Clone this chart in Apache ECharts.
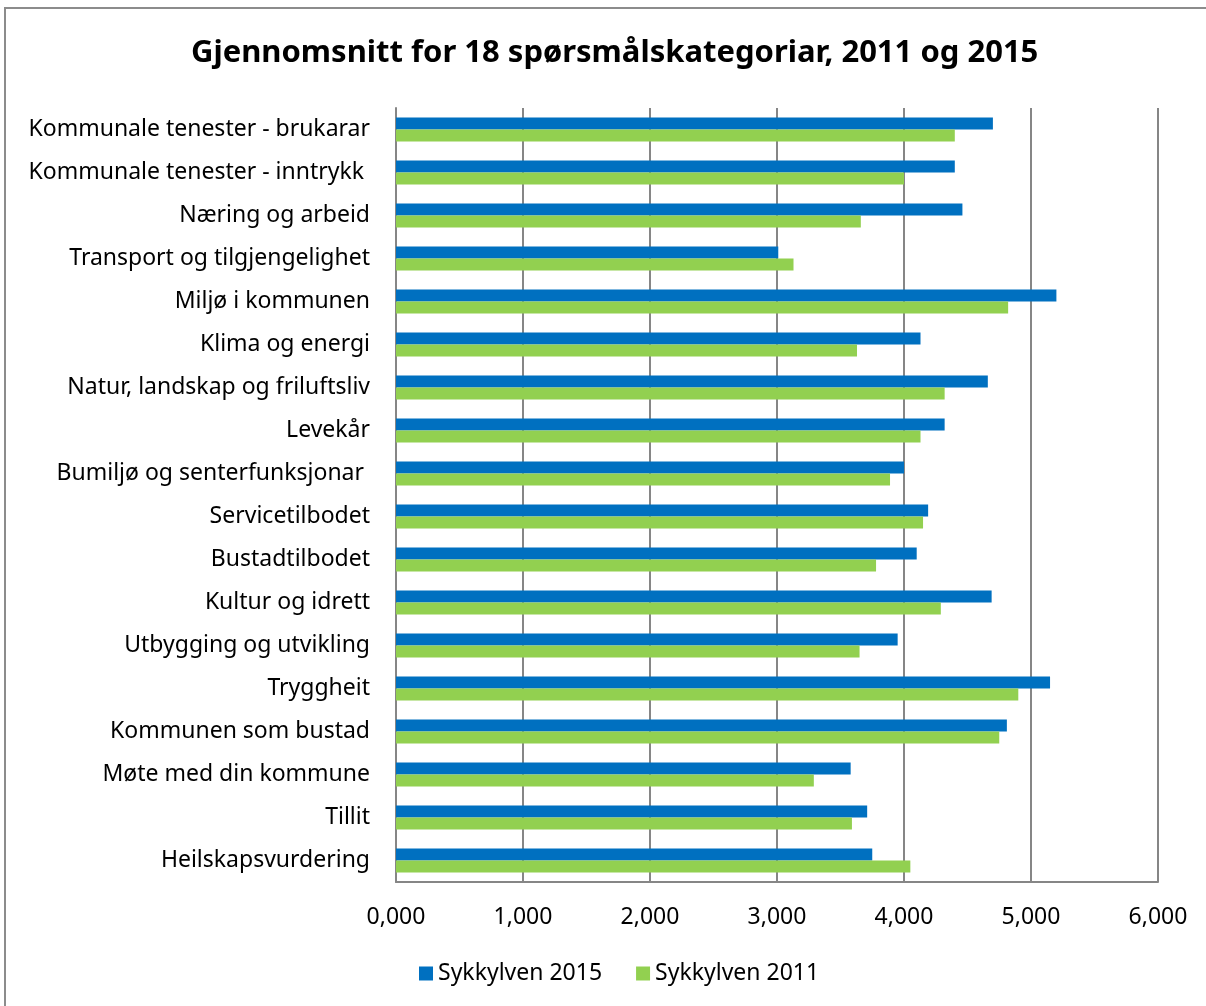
<!DOCTYPE html>
<html lang="no">

<head>
  <meta charset="UTF-8" />
  <title>Gjennomsnitt for 18 spørsmålskategoriar</title>
  <style>
    html, body { margin: 0; padding: 0; background: #fff; }
  </style>
</head>

<body>
  <div id="main" style="width: 1206px; height: 1006px;"></div>
  <script src="https://cdn.jsdelivr.net/npm/echarts@6/dist/echarts.min.js"></script>
  <script type="text/javascript">
    // kategoriar, frå toppen og ned
    var categories = [
      'Kommunale tenester - brukarar',
      'Kommunale tenester - inntrykk ',
      'Næring og arbeid',
      'Transport og tilgjengelighet',
      'Miljø i kommunen',
      'Klima og energi',
      'Natur, landskap og friluftsliv',
      'Levekår',
      'Bumiljø og senterfunksjonar ',
      'Servicetilbodet',
      'Bustadtilbodet',
      'Kultur og idrett',
      'Utbygging og utvikling',
      'Tryggheit',
      'Kommunen som bustad',
      'Møte med din kommune',
      'Tillit',
      'Heilskapsvurdering'
    ]
    var sykkylven2015 = [4.70, 4.40, 4.46, 3.01, 5.20, 4.13, 4.66, 4.32, 4.00, 4.19, 4.10, 4.69, 3.95, 5.15, 4.81, 3.58, 3.71, 3.75]
    var sykkylven2011 = [4.40, 4.00, 3.66, 3.13, 4.82, 3.63, 4.32, 4.13, 3.89, 4.15, 3.78, 4.29, 3.65, 4.90, 4.75, 3.29, 3.59, 4.05]

    var myChart = echarts.init(document.getElementById('main'))

    var font = 'Noto Sans'

    var option = {
      backgroundColor: '#fff',
      animation: false,
      title: {
        text: 'Gjennomsnitt for 18 spørsmålskategoriar, 2011 og 2015',
        left: 186,
        top: 33,
        textStyle: { fontFamily: font, fontSize: 31, fontWeight: 'bold', color: '#000' }
      },
      // ramme rundt heile figuren
      graphic: [{
        type: 'rect',
        shape: { x: 5, y: 8, width: 1210, height: 1010 },
        style: { fill: 'none', stroke: '#8c8c8c', lineWidth: 2 },
        silent: true
      }],
      legend: {
        top: 957,
        left: 414,
        itemWidth: 14,
        itemHeight: 14,
        itemGap: 34,
        icon: 'rect',
        textStyle: { fontFamily: font, fontSize: 23, color: '#000' },
        data: ['Sykkylven 2015', 'Sykkylven 2011']
      },
      grid: { left: 396, right: 48, top: 108, bottom: 124, containLabel: false },
      xAxis: {
        type: 'value',
        min: 0,
        max: 6,
        interval: 1,
        axisLine: { show: true, lineStyle: { color: '#868686', width: 2 } },
        axisTick: { show: false },
        splitLine: { show: true, lineStyle: { color: '#868686', width: 2 } },
        axisLabel: {
          margin: 24,
          fontFamily: font,
          fontSize: 23,
          color: '#000',
          formatter: function (v) { return v.toFixed(3).replace('.', ',') }
        }
      },
      yAxis: {
        type: 'category',
        inverse: true,
        data: categories,
        axisLine: { show: true, lineStyle: { color: '#868686', width: 2 } },
        axisTick: { show: false },
        axisLabel: { margin: 26, fontFamily: font, fontSize: 23, color: '#000' }
      },
      series: [
        {
          name: 'Sykkylven 2015',
          type: 'bar',
          data: sykkylven2015,
          barWidth: 12,
          barGap: '0%',
          itemStyle: { color: '#0070C0' }
        },
        {
          name: 'Sykkylven 2011',
          type: 'bar',
          data: sykkylven2011,
          barWidth: 12,
          barGap: '0%',
          itemStyle: { color: '#92D050' }
        }
      ]
    }

    myChart.setOption(option)
  </script>
</body>

</html>
